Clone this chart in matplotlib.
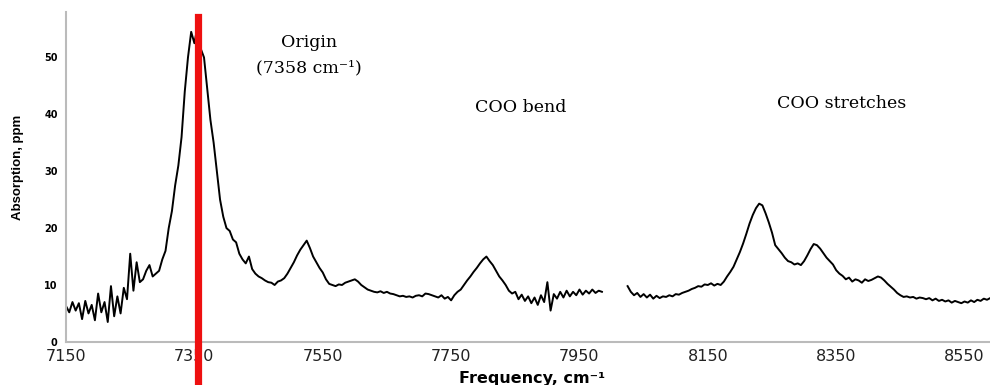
import matplotlib
matplotlib.use("Agg")
import matplotlib.pyplot as plt
import numpy as np

# spectrum, 5 cm-1 steps, two scan windows
seg1_start = 7150
seg1_vals = [
    6.3, 5.2, 7.0, 5.5, 6.8, 4.0, 7.2, 5.0, 6.5, 3.8,
    8.5, 5.2, 7.0, 3.5, 9.8, 4.5, 8.0, 5.0, 9.5, 7.5,
    15.5, 9.0, 14.0, 10.5, 11.0, 12.5, 13.5, 11.5, 12.0, 12.5,
    14.5, 16.0, 20.0, 23.0, 27.5, 31.0, 36.0, 44.0, 50.0, 54.5,
    52.5, 55.5, 51.5, 50.0, 44.5, 39.0, 35.0, 30.0, 25.0, 22.0,
    20.0, 19.5, 18.0, 17.5, 15.5, 14.5, 13.8, 15.0, 12.8, 12.0,
    11.5, 11.2, 10.8, 10.5, 10.4, 10.0, 10.6, 10.8, 11.2, 12.0,
    13.0, 14.0, 15.2, 16.2, 17.0, 17.8, 16.5, 15.0, 14.0, 13.0,
    12.2, 11.0, 10.2, 10.0, 9.8, 10.1, 10.0, 10.4, 10.6, 10.8,
    11.0, 10.6, 10.0, 9.6, 9.2, 9.0, 8.8, 8.7, 8.9, 8.6,
    8.8, 8.5, 8.4, 8.2, 8.0, 8.1, 7.9, 8.0, 7.8, 8.1,
    8.2, 8.0, 8.5, 8.4, 8.2, 8.0, 7.8, 8.2, 7.6, 7.9,
    7.3, 8.2, 8.8, 9.2, 10.0, 10.8, 11.5, 12.3, 13.0, 13.8,
    14.5, 15.0, 14.2, 13.5, 12.5, 11.5, 10.8, 10.0, 9.0, 8.5,
    8.8, 7.5, 8.3, 7.2, 8.0, 6.8, 7.8, 6.5, 8.2, 7.0,
    10.5, 5.5, 8.4, 7.6, 8.8, 7.8, 9.0, 8.0, 8.8, 8.2,
    9.2, 8.3, 9.0, 8.5, 9.2, 8.6, 9.0, 8.8,
]
seg2_start = 8025
seg2_vals = [
    9.8, 8.8, 8.2, 8.6, 7.9, 8.4, 7.8, 8.3, 7.6, 8.1,
    7.7, 8.0, 7.9, 8.2, 8.0, 8.4, 8.3, 8.6, 8.8, 9.0,
    9.3, 9.5, 9.8, 9.7, 10.1, 10.0, 10.3, 9.9, 10.2, 10.0,
    10.6, 11.5, 12.3, 13.2, 14.5, 15.8, 17.3, 19.0, 20.8, 22.3,
    23.5, 24.3, 24.0, 22.6, 21.0, 19.2, 17.0, 16.3, 15.6, 14.8,
    14.2, 14.0, 13.6, 13.8, 13.5, 14.2, 15.2, 16.3, 17.2, 17.0,
    16.4, 15.6, 14.8, 14.2, 13.6, 12.6, 12.0, 11.6, 11.0, 11.3,
    10.6, 11.0, 10.8, 10.4, 11.0, 10.7, 10.9, 11.2, 11.5, 11.3,
    10.8, 10.2, 9.7, 9.2, 8.6, 8.2, 7.9, 8.0, 7.8, 7.9,
    7.6, 7.8, 7.7, 7.5, 7.7, 7.3, 7.6, 7.2, 7.4, 7.1,
    7.3, 6.9, 7.2, 7.0, 6.8, 7.1, 6.9, 7.3, 7.0, 7.4,
    7.2, 7.6, 7.4, 7.7,
]
step = 5
origin = 7356
x_ticks = [7150, 7350, 7550, 7750, 7950, 8150, 8350, 8550]
y_ticks = [0, 10, 20, 30, 40, 50]

fig = plt.figure(figsize=(9.9, 3.85), dpi=100)
ax = fig.add_axes([0.0667, 0.112, 0.94, 0.857])

for start, vals in [(seg1_start, seg1_vals), (seg2_start, seg2_vals)]:
    f = start + step * np.arange(len(vals))
    ax.plot(f, vals, color='black', lw=1.4)

ax.axvline(origin, ymin=-0.14, ymax=0.985, color='#ee1010', lw=5.2, clip_on=False, zorder=5)

ax.set_xlim(7150, 8600)
ax.set_ylim(0, 58)
ax.set_xticks(x_ticks)
ax.set_yticks(y_ticks)
ax.tick_params(axis='x', length=0, labelsize=11.5, pad=5, labelcolor='#222222')
ax.tick_params(axis='y', length=0, labelsize=7, pad=6)
for lbl in ax.get_yticklabels():
    lbl.set_fontweight('bold')
for s in ['top', 'right']:
    ax.spines[s].set_visible(False)
for s in ['left', 'bottom']:
    ax.spines[s].set_color('#bbbbbb')
    ax.spines[s].set_linewidth(1.5)

serif = dict(family='DejaVu Serif', fontsize=12.5, ha='center', va='center')
ax.text(7528, 52.6, "Origin", **serif)
ax.text(7528, 48.2, "(7358 cm⁻¹)", **serif)
ax.text(7858, 41.2, "COO bend", **serif)
ax.text(8358, 41.9, "COO stretches", **serif)

fig.text(0.537, 0.018, "Frequency, cm⁻¹", ha='center', va='center', fontsize=11.5, fontweight='bold')
fig.text(0.018, 0.564, "Absorption, ppm", ha='center', va='center', rotation=90,
         fontsize=9.5, fontweight='bold', family=['Liberation Sans', 'DejaVu Sans'])

fig.savefig("out.png", dpi=100)
